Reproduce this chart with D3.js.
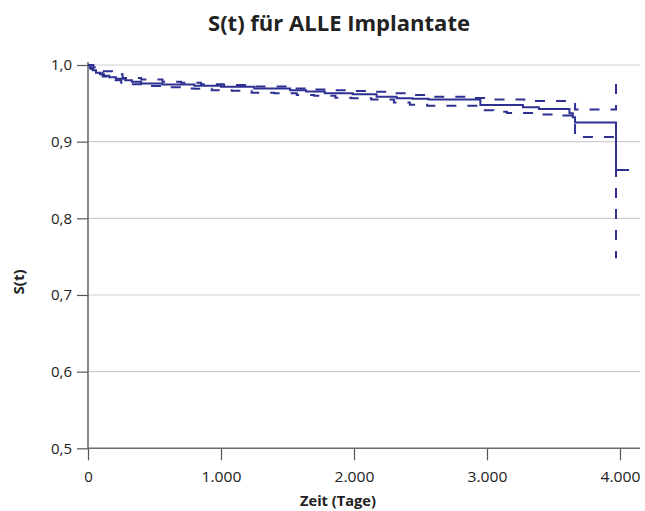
<!DOCTYPE html>
<html><head><meta charset="utf-8">
<script src="https://cdn.jsdelivr.net/npm/d3@7"></script>
<style>
body{margin:0;background:#fff;}
svg text{font-family:"Open Sans","Noto Sans",sans-serif;fill:#222;}
</style></head>
<body><svg id="c" width="645" height="511"></svg>
<script>
// ---- data ----
const survT  = [0,15,35,60,90,120,160,210,280,330,400,560,800,1000,1250,1520,1640,1780,1990,2170,2320,2440,2560,2950,3270,3390,3620,3645,3662,3970,4068];
const survS  = [1.000,0.996,0.993,0.990,0.988,0.986,0.984,0.982,0.980,0.978,0.976,0.9745,0.973,0.9715,0.9695,0.967,0.9655,0.963,0.962,0.9586,0.9565,0.956,0.955,0.9478,0.945,0.9425,0.937,0.932,0.925,0.863,0.863];
const upperT = [0,40,100,180,260,400,560,700,850,1020,1250,1530,1650,1800,1960,2100,2270,2420,2560,2900,3000,3280,3662,3970];
const upperS = [1.000,0.997,0.992,0.988,0.983,0.981,0.978,0.977,0.975,0.974,0.972,0.9695,0.968,0.967,0.966,0.965,0.963,0.961,0.9586,0.957,0.955,0.953,0.942,0.976];
const lowerT = [0,20,60,110,170,250,320,460,620,700,800,930,1080,1230,1400,1570,1700,1860,1980,2130,2300,2420,2550,2930,3050,3150,3350,3500,3662,3970];
const lowerS = [1.000,0.995,0.990,0.985,0.980,0.977,0.975,0.9726,0.971,0.9695,0.969,0.967,0.9665,0.9637,0.963,0.961,0.960,0.9573,0.9565,0.955,0.951,0.948,0.947,0.941,0.939,0.9375,0.9355,0.934,0.906,0.748];
const xTicks = [0,1000,2000,3000,4000];
const xTickLabels = ["0","1.000","2.000","3.000","4.000"];
const yTicks = [0.5,0.6,0.7,0.8,0.9,1.0];
const yTickLabels = ["0,5","0,6","0,7","0,8","0,9","1,0"];
const title = "S(t) für ALLE Implantate";
const xTitle = "Zeit (Tage)";
const yTitle = "S(t)";

// ---- chart ----
const svg = d3.select("#c");
const x = d3.scaleLinear().domain([0,4000]).range([88,620]);
const y = d3.scaleLinear().domain([0.5,1.0]).range([448.3,65]);
const color = "#2e3192";

// grid
svg.append("g").selectAll("line").data(yTicks.filter(d=>d>0.5)).join("line")
  .attr("x1",88).attr("x2",640).attr("y1",d=>y(d)).attr("y2",d=>y(d))
  .attr("stroke","#cfcfcf").attr("stroke-width",1.2);

// axes
const yAxis = d3.axisLeft(y).tickValues(yTicks).tickFormat((d,i)=>yTickLabels[i]).tickSize(11).tickPadding(5);
const gy = svg.append("g").attr("transform","translate(88,0)").call(yAxis);
const xAxis = d3.axisBottom(x).tickValues(xTicks).tickFormat((d,i)=>xTickLabels[i]).tickSize(12).tickPadding(11);
const gx = svg.append("g").attr("transform","translate(0,448.3)").call(xAxis);
[gx,gy].forEach(g=>{
  g.select(".domain").remove();
  g.selectAll(".tick line").attr("stroke","#555").attr("stroke-width",1.2);
  g.selectAll(".tick text").attr("font-size",15).attr("fill","#222").style("font-family","'Open Sans',sans-serif");
});
gx.selectAll(".tick text").attr("textLength",(d,i)=>i===0?null:40).attr("lengthAdjust","spacingAndGlyphs");
svg.append("line").attr("x1",88).attr("x2",640).attr("y1",448.3).attr("y2",448.3).attr("stroke","#6a6a6a").attr("stroke-width",1.6);
svg.append("line").attr("x1",88).attr("x2",88).attr("y1",62).attr("y2",448.3).attr("stroke","#6a6a6a").attr("stroke-width",1.6);

// lines
const line = d3.line().x(d=>x(d[0])).y(d=>y(d[1])).curve(d3.curveStepAfter);
const zip = (a,b)=>a.map((v,i)=>[v,b[i]]);
svg.append("path").attr("d",line(zip(upperT,upperS))).attr("fill","none").attr("stroke",color).attr("stroke-width",2).attr("stroke-dasharray","10,11");
svg.append("path").attr("d",line(zip(lowerT,lowerS))).attr("fill","none").attr("stroke",color).attr("stroke-width",2).attr("stroke-dasharray","10,11");
svg.append("path").attr("d",line(zip(survT,survS))).attr("fill","none").attr("stroke",color).attr("stroke-width",2);

// titles
svg.append("text").attr("x",339).attr("y",31).attr("text-anchor","middle").attr("font-size",21).attr("font-weight","bold")
  .attr("textLength",262).attr("lengthAdjust","spacingAndGlyphs").text(title);
svg.append("text").attr("x",338).attr("y",506).attr("text-anchor","middle").attr("font-size",15).attr("font-weight","bold")
  .attr("textLength",76).attr("lengthAdjust","spacingAndGlyphs").text(xTitle);
svg.append("text").attr("transform","translate(24,282) rotate(-90)").attr("text-anchor","middle").attr("font-size",15).attr("font-weight","bold").text(yTitle);
</script></body></html>
